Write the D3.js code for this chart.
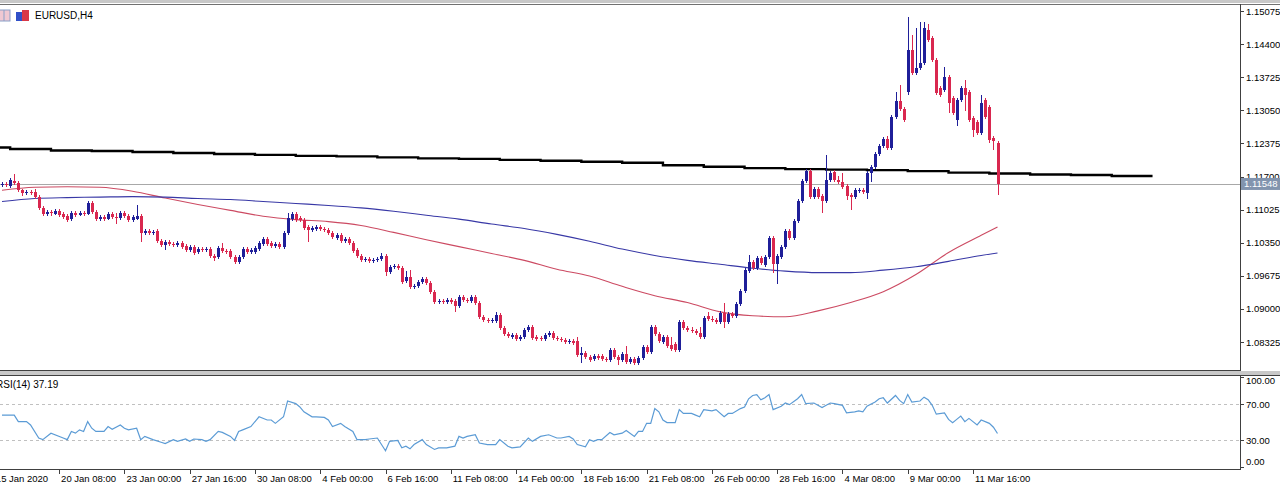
<!DOCTYPE html>
<html>
<head>
<meta charset="utf-8">
<script src="https://cdn.jsdelivr.net/npm/d3@7"></script>
<style>
body { margin: 0; background: #fff; }
svg text { font-family: "Liberation Sans", Arial, sans-serif; font-size: 9.5px; fill: #000; }
</style>
</head>
<body>
<svg width="1280" height="485"></svg>
<script>
// EURUSD H4 candles, bar 0 = 15 Jan 16:00, last bar = 12 Mar 16:00
var opens = [
1.1153,1.1155,1.1150,1.1161,1.1157,1.1142,1.1136,1.1138,1.1138,1.1128,
1.1106,1.1093,1.1097,1.1093,1.1099,1.1093,1.1089,1.1083,1.1095,1.1091,
1.1095,1.1093,1.1116,1.1097,1.1083,1.1087,1.1083,1.1093,1.1087,1.1085,
1.1095,1.1089,1.1081,1.1083,1.1089,1.1055,1.1059,1.1055,1.1059,1.1038,
1.1030,1.1036,1.1032,1.1030,1.1034,1.1028,1.1020,1.1026,1.1016,1.1022,
1.1020,1.1022,1.1008,1.1006,1.1024,1.1018,1.1018,1.1006,1.0995,1.1006,
1.1022,1.1016,1.1016,1.1022,1.1032,1.1042,1.1034,1.1028,1.1032,1.1026,
1.1055,1.1083,1.1093,1.1085,1.1081,1.1067,1.1061,1.1063,1.1067,1.1063,
1.1061,1.1055,1.1044,1.1050,1.1038,1.1042,1.1034,1.1020,1.1008,1.0999,
1.1002,1.0997,1.0999,1.1002,1.1008,1.0975,1.0985,1.0987,1.0983,1.0957,
1.0965,1.0944,1.0946,1.0955,1.0961,1.0953,1.0934,1.0914,1.0916,1.0914,
1.0918,1.0916,1.0906,1.0924,1.0918,1.0916,1.0924,1.0912,1.0883,1.0877,
1.0875,1.0875,1.0887,1.0861,1.0849,1.0842,1.0847,1.0838,1.0842,1.0857,
1.0863,1.0842,1.0840,1.0838,1.0847,1.0851,1.0840,1.0838,1.0836,1.0832,
1.0834,1.0834,1.0806,1.0810,1.0802,1.0798,1.0804,1.0804,1.0798,1.0796,
1.0816,1.0802,1.0796,1.0808,1.0791,1.0798,1.0789,1.0800,1.0822,1.0812,
1.0863,1.0849,1.0832,1.0842,1.0826,1.0828,1.0816,1.0873,1.0861,1.0857,
1.0855,1.0851,1.0842,1.0885,1.0879,1.0877,1.0873,1.0891,1.0873,1.0889,
1.0885,1.0910,1.0936,1.0977,1.0995,1.0983,1.1004,1.0989,1.1006,1.1044,
1.0991,1.1006,1.1026,1.1059,1.1044,1.1079,1.1120,1.1161,1.1181,1.1128,
1.1144,1.1130,1.1120,1.1163,1.1179,1.1163,1.1159,1.1150,1.1132,1.1128,
1.1140,1.1142,1.1136,1.1177,1.1189,1.1216,1.1232,1.1246,1.1228,1.1291,
1.1324,1.1308,1.1342,1.1428,1.1381,1.1391,1.1401,1.1469,1.1452,1.1408,
1.1350,1.1346,1.1373,1.1330,1.1285,1.1326,1.1350,1.1342,1.1289,1.1281,
1.1259,1.1326,1.1312,1.1248,1.1238];

var highs = [
1.1159,1.1159,1.1167,1.1175,1.1161,1.1144,1.1142,1.1142,1.1144,1.1132,
1.1110,1.1102,1.1102,1.1104,1.1104,1.1097,1.1093,1.1099,1.1099,1.1099,
1.1099,1.1120,1.1120,1.1102,1.1091,1.1091,1.1097,1.1097,1.1095,1.1099,
1.1099,1.1093,1.1091,1.1112,1.1093,1.1063,1.1063,1.1061,1.1063,1.1042,
1.1040,1.1040,1.1036,1.1038,1.1038,1.1032,1.1030,1.1030,1.1026,1.1026,
1.1026,1.1026,1.1012,1.1028,1.1034,1.1022,1.1022,1.1010,1.1010,1.1026,
1.1026,1.1024,1.1028,1.1038,1.1046,1.1046,1.1038,1.1036,1.1036,1.1059,
1.1095,1.1097,1.1097,1.1089,1.1085,1.1071,1.1069,1.1071,1.1071,1.1067,
1.1065,1.1059,1.1055,1.1055,1.1046,1.1046,1.1038,1.1024,1.1012,1.1006,
1.1006,1.1004,1.1006,1.1014,1.1012,1.0989,1.0991,1.0991,1.0987,1.0977,
1.0979,1.0951,1.0959,1.0965,1.0965,1.0957,1.0938,1.0920,1.0920,1.0922,
1.0922,1.0920,1.0928,1.0928,1.0922,1.0928,1.0928,1.0916,1.0887,1.0881,
1.0881,1.0893,1.0891,1.0865,1.0853,1.0851,1.0851,1.0847,1.0861,1.0867,
1.0867,1.0847,1.0844,1.0851,1.0855,1.0855,1.0844,1.0842,1.0840,1.0838,
1.0838,1.0842,1.0822,1.0814,1.0806,1.0808,1.0808,1.0808,1.0802,1.0820,
1.0820,1.0806,1.0812,1.0824,1.0802,1.0802,1.0804,1.0826,1.0826,1.0867,
1.0867,1.0853,1.0847,1.0847,1.0842,1.0832,1.0877,1.0877,1.0865,1.0863,
1.0859,1.0863,1.0885,1.0893,1.0885,1.0881,1.0896,1.0912,1.0893,1.0893,
1.0914,1.0940,1.0983,1.1010,1.0999,1.1008,1.1008,1.1010,1.1048,1.1048,
1.1012,1.1030,1.1063,1.1063,1.1083,1.1124,1.1165,1.1185,1.1185,1.1148,
1.1148,1.1134,1.1214,1.1181,1.1183,1.1171,1.1177,1.1155,1.1136,1.1146,
1.1146,1.1146,1.1181,1.1193,1.1220,1.1236,1.1250,1.1252,1.1295,1.1342,
1.1357,1.1312,1.1495,1.1459,1.1473,1.1485,1.1485,1.1481,1.1456,1.1412,
1.1354,1.1393,1.1377,1.1334,1.1330,1.1354,1.1367,1.1346,1.1293,1.1285,
1.1336,1.1330,1.1316,1.1252,1.1242];

var lows = [
1.1148,1.1148,1.1146,1.1153,1.1138,1.1130,1.1132,1.1132,1.1124,1.1102,
1.1089,1.1089,1.1089,1.1091,1.1087,1.1083,1.1077,1.1079,1.1087,1.1089,
1.1089,1.1091,1.1093,1.1079,1.1079,1.1079,1.1081,1.1083,1.1073,1.1081,
1.1085,1.1077,1.1077,1.1081,1.1036,1.1050,1.1050,1.1050,1.1034,1.1026,
1.1020,1.1028,1.1026,1.1026,1.1022,1.1016,1.1016,1.1010,1.1012,1.1016,
1.1016,1.1004,1.0997,1.1002,1.1014,1.1012,1.1002,1.0991,1.0991,1.1002,
1.1012,1.1012,1.1012,1.1018,1.1028,1.1028,1.1024,1.1024,1.1022,1.1022,
1.1050,1.1079,1.1077,1.1077,1.1061,1.1036,1.1057,1.1059,1.1059,1.1057,
1.1050,1.1042,1.1040,1.1034,1.1034,1.1030,1.1014,1.1004,1.0995,1.0995,
1.0993,1.0993,1.0995,1.0997,1.0967,1.0971,1.0981,1.0979,1.0951,1.0953,
1.0940,1.0940,1.0942,1.0951,1.0949,1.0930,1.0910,1.0910,1.0910,1.0910,
1.0910,1.0893,1.0902,1.0914,1.0912,1.0912,1.0908,1.0879,1.0873,1.0871,
1.0871,1.0871,1.0857,1.0844,1.0840,1.0838,1.0834,1.0834,1.0838,1.0853,
1.0836,1.0834,1.0834,1.0834,1.0842,1.0836,1.0834,1.0832,1.0828,1.0828,
1.0826,1.0802,1.0789,1.0798,1.0791,1.0793,1.0796,1.0793,1.0791,1.0791,
1.0798,1.0785,1.0791,1.0787,1.0787,1.0785,1.0785,1.0796,1.0808,1.0808,
1.0844,1.0830,1.0828,1.0820,1.0814,1.0812,1.0812,1.0857,1.0853,1.0851,
1.0847,1.0838,1.0838,1.0875,1.0873,1.0869,1.0869,1.0861,1.0869,1.0881,
1.0881,1.0906,1.0932,1.0973,1.0979,1.0979,1.0989,1.0985,1.1002,1.0973,
1.0951,1.1002,1.1022,1.1040,1.1040,1.1075,1.1116,1.1157,1.1124,1.1124,
1.1124,1.1095,1.1116,1.1159,1.1159,1.1155,1.1144,1.1122,1.1102,1.1124,
1.1136,1.1134,1.1124,1.1159,1.1185,1.1212,1.1228,1.1224,1.1224,1.1287,
1.1303,1.1281,1.1336,1.1377,1.1377,1.1387,1.1397,1.1444,1.1403,1.1336,
1.1332,1.1342,1.1299,1.1295,1.1273,1.1322,1.1303,1.1281,1.1250,1.1255,
1.1255,1.1287,1.1238,1.1224,1.1132];

var closes = [
1.1155,1.1153,1.1163,1.1157,1.1142,1.1136,1.1138,1.1136,1.1128,1.1106,
1.1093,1.1097,1.1095,1.1099,1.1091,1.1087,1.1081,1.1095,1.1091,1.1095,
1.1093,1.1116,1.1097,1.1083,1.1087,1.1083,1.1093,1.1087,1.1085,1.1095,
1.1089,1.1081,1.1087,1.1089,1.1055,1.1059,1.1055,1.1057,1.1038,1.1030,
1.1036,1.1032,1.1030,1.1034,1.1026,1.1020,1.1026,1.1014,1.1022,1.1020,
1.1022,1.1008,1.1004,1.1024,1.1018,1.1016,1.1006,1.0995,1.1006,1.1022,
1.1016,1.1020,1.1024,1.1034,1.1042,1.1032,1.1028,1.1032,1.1026,1.1055,
1.1085,1.1093,1.1081,1.1081,1.1065,1.1061,1.1065,1.1067,1.1063,1.1061,
1.1055,1.1046,1.1050,1.1038,1.1042,1.1034,1.1018,1.1008,1.0999,1.1002,
1.0997,1.0999,1.1002,1.1008,1.0975,1.0985,1.0987,1.0983,1.0955,1.0965,
1.0944,1.0946,1.0955,1.0961,1.0953,1.0934,1.0914,1.0916,1.0914,1.0918,
1.0914,1.0906,1.0924,1.0918,1.0916,1.0924,1.0912,1.0883,1.0877,1.0875,
1.0877,1.0887,1.0861,1.0849,1.0844,1.0847,1.0838,1.0842,1.0857,1.0863,
1.0840,1.0838,1.0838,1.0847,1.0851,1.0840,1.0838,1.0836,1.0832,1.0834,
1.0830,1.0806,1.0810,1.0802,1.0796,1.0804,1.0800,1.0798,1.0796,1.0816,
1.0802,1.0796,1.0808,1.0791,1.0798,1.0789,1.0800,1.0822,1.0812,1.0863,
1.0849,1.0834,1.0842,1.0824,1.0818,1.0816,1.0873,1.0861,1.0857,1.0855,
1.0851,1.0842,1.0881,1.0879,1.0877,1.0873,1.0891,1.0873,1.0889,1.0885,
1.0910,1.0936,1.0979,1.0995,1.0983,1.1004,1.0993,1.1006,1.1044,1.0991,
1.1008,1.1026,1.1059,1.1044,1.1079,1.1120,1.1161,1.1181,1.1128,1.1144,
1.1128,1.1120,1.1163,1.1177,1.1163,1.1159,1.1148,1.1130,1.1128,1.1142,
1.1142,1.1138,1.1177,1.1189,1.1216,1.1232,1.1246,1.1228,1.1291,1.1324,
1.1308,1.1285,1.1428,1.1381,1.1391,1.1401,1.1473,1.1448,1.1408,1.1340,
1.1336,1.1373,1.1320,1.1299,1.1326,1.1350,1.1336,1.1285,1.1265,1.1259,
1.1320,1.1291,1.1244,1.1242,1.11548];

// moving averages, read every 8 bars
var maIdx = [0,8,16,24,32,40,48,56,64,72,80,88,96,104,112,120,128,136,144,152,160,168,176,184,192,200,208,216,224,232,240,244];
var maRed = [1.1142,1.1148,1.1149,1.1148,1.1140,1.1126,1.1113,1.1101,1.1089,1.1082,1.1078,1.1070,1.1056,1.1041,1.1027,1.1013,
  1.0999,1.0981,1.0967,1.0946,1.0927,1.0913,1.0894,1.0886,1.0884,1.0896,1.0913,1.0935,1.0970,1.1015,1.1050,1.1067];
var maBlue = [1.1119,1.1125,1.1127,1.1128,1.1129,1.1128,1.1125,1.1123,1.1119,1.1115,1.1111,1.1106,1.1099,1.1091,1.1083,1.1073,
  1.1064,1.1052,1.1038,1.1022,1.1009,1.0999,1.0991,1.0983,1.0977,1.0974,1.0974,1.0979,1.0986,1.0997,1.1009,1.1014];

// black stepped line (changes every 10 bars, runs past the last bar)
var blackIdx = [-12,2,12,22,32,42,52,62,72,82,92,102,112,122,132,142,152,162,172,182,192,202,212,222,232,242,252,262,272,282];
var blackVal = [1.1229,1.1226,1.1223,1.1222,1.1220,1.1218,1.1216,1.1214,1.1212,1.1211,1.1209,1.1207,1.1206,1.1204,1.1202,
  1.1200,1.1198,1.1193,1.1190,1.1187,1.1185,1.1184,1.1183,1.1181,1.1178,1.1176,1.1174,1.1173,1.1171,1.1171];

// RSI(14)
var rsiIdx = [0,3,4,6,7,9,10,12,15,16,17,18,19,20,21,22,23,25,26,27,29,30,31,33,34,35,37,39,40,42,43,45,46,47,49,50,51,53,54,56,57,58,59,61,63,65,66,67,69,70,
  72,73,74,76,77,79,80,81,83,84,86,87,89,90,92,94,95,97,98,99,100,101,103,104,106,107,109,111,112,113,114,116,117,119,121,122,124,125,127,129,130,132,134,136,137,139,140,141,143,144,
  145,146,147,149,150,152,153,155,156,157,158,159,160,161,162,163,165,166,167,169,170,171,172,174,175,177,178,179,181,182,183,184,185,186,187,188,189,191,192,193,195,196,197,199,201,203,204,206,207,209,
  210,211,212,214,215,216,217,219,220,221,222,223,225,226,227,228,229,231,232,233,234,235,236,237,239,240,242,243,244];
var rsiVal = [57.6,57.6,50.4,50.4,46.7,32.2,30.4,37.6,32.2,30.4,39.5,37.6,41.3,39.5,50.4,43.1,39.5,39.5,44.9,42,46.7,43.1,41.3,43.1,30.4,34,30.4,27.5,26,30.4,28.5,31.1,28.5,31.1,30.4,28.5,30.4,39.5,38.4,34,29.6,39.5,41.3,44.9,55.8,52.2,52.2,48.5,55.8,73.3,
  70.4,66.7,61.3,55.8,55.8,55.1,52.2,44.9,48.5,44.9,39.5,30.4,30.4,31.1,32.2,18,28.5,29.6,21.3,23.1,20.2,24.9,30.4,24.9,19.5,21.3,21.3,23.1,34,32.2,34,35.8,26.7,24.9,24.9,30.4,23.1,21.3,22.4,32.2,28.5,34,35.8,32.2,32.2,34,31.1,24.9,22.4,30.4,
  28.5,30.4,30.4,38.4,35.8,37.6,40.5,34,39.5,39.5,48.5,48.5,64.9,61.3,52.2,49.3,49.3,63.8,59.5,59.5,57.6,55.8,63.8,62.4,63.8,55.8,59.5,59.5,64.9,66.7,75.8,79.5,80.5,74.7,76.9,80.5,63.8,67.5,71.1,69.3,75.8,80.5,70.4,71.1,66,71.1,70.4,68.5,60.2,61.3,
  62.4,61.3,67.5,72.2,75.8,76.9,71.1,79.5,74,70.4,80.5,72.2,73.3,77.6,74.7,68.5,58.7,60.2,52.9,49.3,52.9,56.5,50.4,54,46.7,52.2,48.5,44.2,37.19];

var priceTicks = [1.15075,1.14400,1.13725,1.13050,1.12375,1.11700,1.11025,1.10350,1.09675,1.09000,1.08325];
var rsiTicks = [100, 70, 30, 0];
var rsiLevels = [70, 30];
var dateLabels = ["15 Jan 2020","20 Jan 08:00","23 Jan 00:00","27 Jan 16:00","30 Jan 08:00","4 Feb 00:00","6 Feb 16:00",
  "11 Feb 08:00","14 Feb 00:00","18 Feb 16:00","21 Feb 08:00","26 Feb 00:00","28 Feb 16:00","4 Mar 08:00","9 Mar 00:00","11 Mar 16:00"];
var lastPrice = 1.11548;

var svg = d3.select("svg");
var axisX = 1240;
var bullColor = "#1f1f99", bearColor = "#d9274f";

var x = d3.scaleLinear().domain([0, 244]).range([2, 997.5]);
var y = d3.scaleLinear().domain([1.08325, 1.15075]).range([342, 11]);
var ry = d3.scaleLinear().domain([0, 100]).range([467, 377]);

var defs = svg.append("defs");
defs.append("clipPath").attr("id", "mainClip").append("rect")
    .attr("x", 0).attr("y", 5).attr("width", axisX).attr("height", 366);
defs.append("clipPath").attr("id", "rsiClip").append("rect")
    .attr("x", 0).attr("y", 376).attr("width", axisX).attr("height", 93);

// window frames
svg.append("rect").attr("x", 0).attr("y", 0).attr("width", 1280).attr("height", 3).attr("fill", "#c8c8c8");
svg.append("line").attr("x1", 0).attr("x2", 1280).attr("y1", 4.5).attr("y2", 4.5).attr("stroke", "#707070");
svg.append("rect").attr("x", 0).attr("y", 371).attr("width", 1280).attr("height", 4).attr("fill", "#c8c8c8");
svg.append("line").attr("x1", 0).attr("x2", axisX).attr("y1", 370.5).attr("y2", 370.5).attr("stroke", "#404040");
svg.append("line").attr("x1", 0).attr("x2", 1280).attr("y1", 375.5).attr("y2", 375.5).attr("stroke", "#404040");
svg.append("line").attr("x1", 0).attr("x2", axisX).attr("y1", 469.5).attr("y2", 469.5).attr("stroke", "#404040");
svg.append("line").attr("x1", axisX + 0.5).attr("x2", axisX + 0.5).attr("y1", 4).attr("y2", 371).attr("stroke", "#404040");
svg.append("line").attr("x1", axisX + 0.5).attr("x2", axisX + 0.5).attr("y1", 375).attr("y2", 470).attr("stroke", "#404040");

var main = svg.append("g").attr("clip-path", "url(#mainClip)");

// current price line
main.append("line").attr("x1", 0).attr("x2", axisX)
    .attr("y1", Math.round(y(lastPrice)) + 0.5).attr("y2", Math.round(y(lastPrice)) + 0.5)
    .attr("stroke", "#a8a8a8");

// black line
main.append("path")
    .datum(blackIdx.map(function(d, i) { return [d, blackVal[i]]; }))
    .attr("fill", "none").attr("stroke", "#000").attr("stroke-width", 2.4)
    .attr("d", d3.line().x(function(d) { return x(d[0]); }).y(function(d) { return y(d[1]); }).curve(d3.curveStepAfter));

// moving averages
var maLine = d3.line().x(function(d) { return x(d[0]); }).y(function(d) { return y(d[1]); }).curve(d3.curveMonotoneX);
main.append("path")
    .datum(maIdx.map(function(d, i) { return [d, maRed[i]]; }))
    .attr("fill", "none").attr("stroke", "#cc4a62").attr("stroke-width", 1.1).attr("d", maLine);
main.append("path")
    .datum(maIdx.map(function(d, i) { return [d, maBlue[i]]; }))
    .attr("fill", "none").attr("stroke", "#3838a6").attr("stroke-width", 1.1).attr("d", maLine);

// candles
var candle = main.selectAll(".candle")
    .data(closes.map(function(c, i) { return {i: i, o: opens[i], h: highs[i], l: lows[i], c: c}; }))
    .enter().append("g")
    .attr("class", "candle")
    .attr("fill", function(d) { return d.c >= d.o ? bullColor : bearColor; })
    .attr("stroke", function(d) { return d.c >= d.o ? bullColor : bearColor; })
    .attr("shape-rendering", "crispEdges");

candle.append("line")
    .attr("x1", function(d) { return Math.round(x(d.i)) + 0.5; })
    .attr("x2", function(d) { return Math.round(x(d.i)) + 0.5; })
    .attr("y1", function(d) { return y(d.h); })
    .attr("y2", function(d) { return y(d.l); });

candle.append("rect")
    .attr("stroke", "none")
    .attr("x", function(d) { return Math.round(x(d.i)) - 1; })
    .attr("width", 3)
    .attr("y", function(d) { return y(Math.max(d.o, d.c)); })
    .attr("height", function(d) { return Math.max(1, Math.abs(y(d.o) - y(d.c))); });

// price axis
svg.selectAll(".ptick").data(priceTicks).enter().append("line")
    .attr("x1", axisX).attr("x2", axisX + 4)
    .attr("y1", function(d) { return Math.round(y(d)) + 0.5; })
    .attr("y2", function(d) { return Math.round(y(d)) + 0.5; })
    .attr("stroke", "#404040");
svg.selectAll(".plabel").data(priceTicks).enter().append("text")
    .attr("x", axisX + 6)
    .attr("y", function(d) { return y(d) + 3.5; })
    .text(function(d) { return d.toFixed(5); });

// last price tag
svg.append("rect").attr("x", axisX + 1).attr("y", y(lastPrice) - 6).attr("width", 40).attr("height", 12).attr("fill", "#8294ae");
svg.append("text").attr("x", axisX + 4).attr("y", y(lastPrice) + 3.5).style("fill", "#fff").text(lastPrice.toFixed(5));

// title and icons
svg.append("rect").attr("x", -2).attr("y", 10).attr("width", 12).attr("height", 11).attr("fill", "#f0c8d2").attr("stroke", "#8aa0c8");
svg.append("line").attr("x1", 4).attr("x2", 4).attr("y1", 10).attr("y2", 21).attr("stroke", "#8aa0c8");
svg.append("rect").attr("x", 16).attr("y", 12).attr("width", 6).attr("height", 9).attr("fill", "#3050c8");
svg.append("rect").attr("x", 22).attr("y", 10).attr("width", 7).attr("height", 11).attr("fill", "#d83848");
svg.append("text").attr("x", 35).attr("y", 19).style("font-size", "10px").text("EURUSD,H4");

// RSI panel
var rsiG = svg.append("g").attr("clip-path", "url(#rsiClip)");
rsiG.selectAll(".lvl").data(rsiLevels).enter().append("line")
    .attr("x1", 0).attr("x2", axisX)
    .attr("y1", function(d) { return Math.round(ry(d)) + 0.5; })
    .attr("y2", function(d) { return Math.round(ry(d)) + 0.5; })
    .attr("stroke", "#c0c0c0").attr("stroke-dasharray", "3,3");
rsiG.append("path")
    .datum(rsiIdx.map(function(d, i) { return [d, rsiVal[i]]; }))
    .attr("fill", "none").attr("stroke", "#5b9bd5").attr("stroke-width", 1.2)
    .attr("d", d3.line().x(function(d) { return x(d[0]); }).y(function(d) { return ry(d[1]); }));
svg.append("text").attr("x", -4).attr("y", 388).style("font-size", "10px")
    .text("RSI(14) " + rsiVal[rsiVal.length - 1].toFixed(2));

svg.selectAll(".rtick").data(rsiTicks).enter().append("line")
    .attr("x1", axisX).attr("x2", axisX + 4)
    .attr("y1", function(d) { return Math.round(ry(d)) + 0.5; })
    .attr("y2", function(d) { return Math.round(ry(d)) + 0.5; })
    .attr("stroke", "#404040");
svg.selectAll(".rlabel").data(rsiTicks).enter().append("text")
    .attr("x", axisX + 6)
    .attr("y", function(d) { return Math.min(465, Math.max(383.5, ry(d) + 3.5)); })
    .text(function(d) { return d.toFixed(2); });

// time axis, one label every 16 bars
svg.selectAll(".dtick").data(dateLabels).enter().append("line")
    .attr("x1", function(d, k) { return Math.round(x(-2 + 16 * k)) + 0.5; })
    .attr("x2", function(d, k) { return Math.round(x(-2 + 16 * k)) + 0.5; })
    .attr("y1", 470).attr("y2", 474)
    .attr("stroke", "#404040");
svg.selectAll(".dlabel").data(dateLabels).enter().append("text")
    .attr("x", function(d, k) { return x(-2 + 16 * k) + 2; })
    .attr("y", 482)
    .text(function(d) { return d; });
</script>
</body>
</html>
